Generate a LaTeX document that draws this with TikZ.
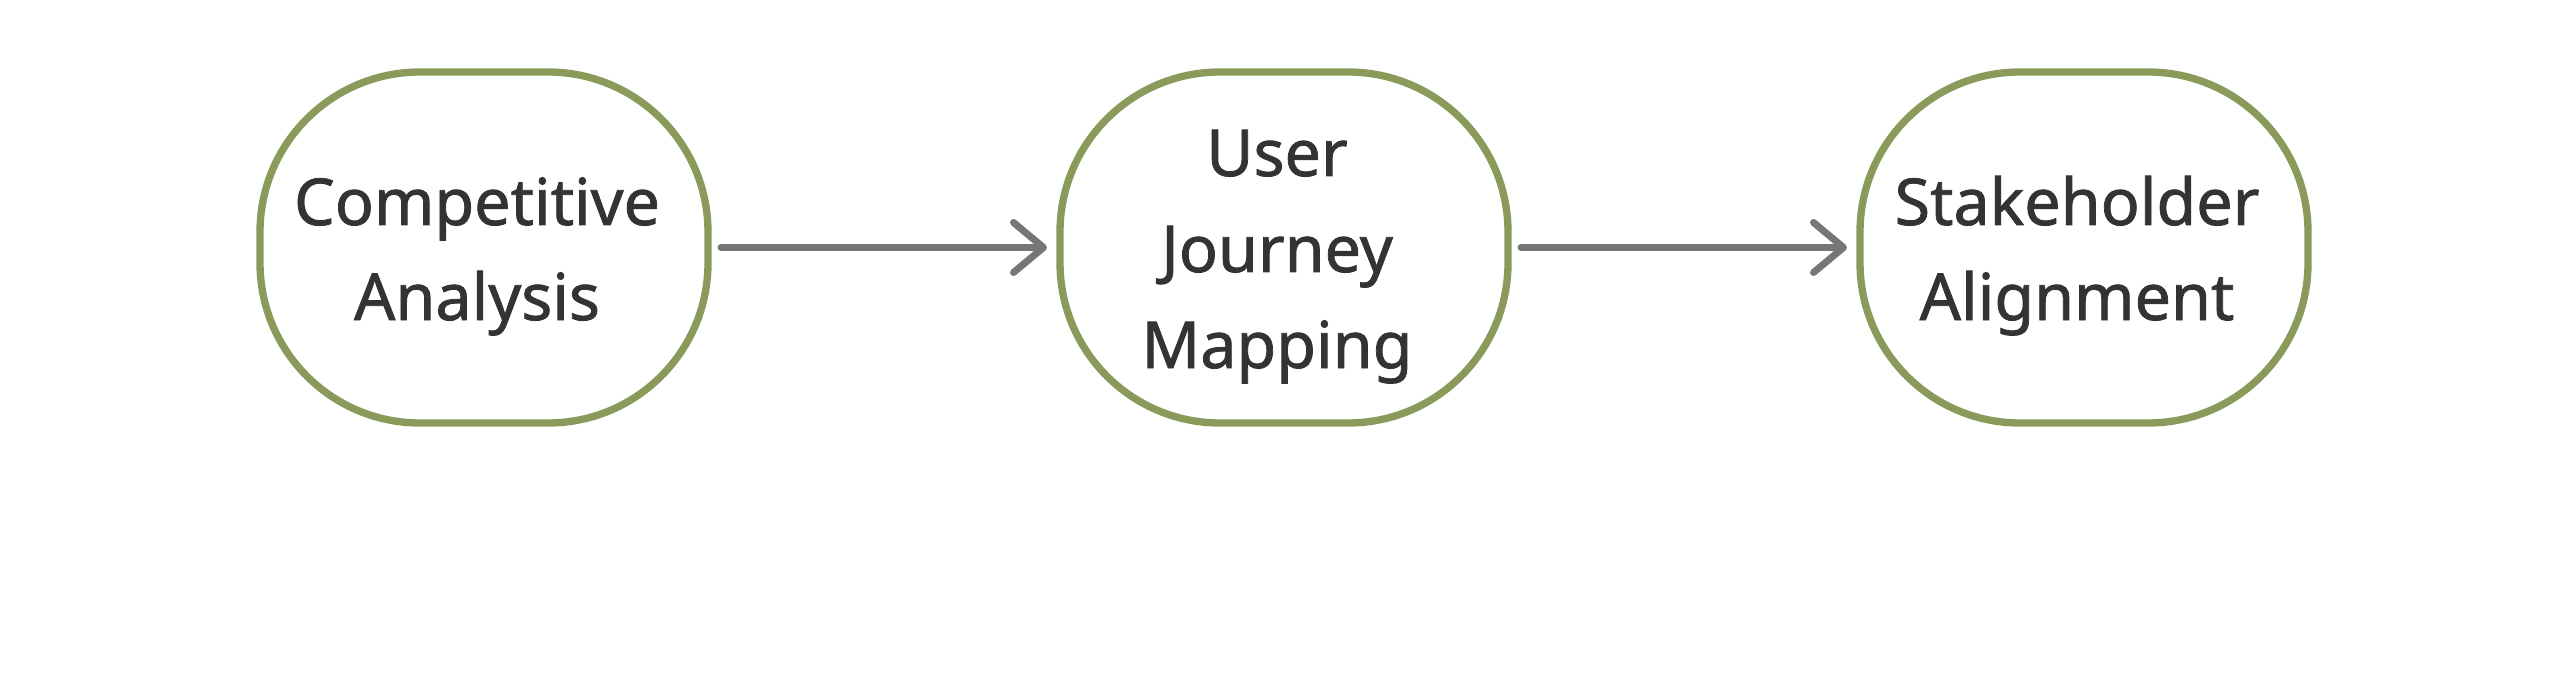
\documentclass[tikz,border=0pt]{standalone}
\usepackage{fontspec}
\setmainfont{Noto Sans}
\newfontfamily\lblfont{Noto Sans}[FakeBold=1.2]
\usetikzlibrary{arrows.meta}
\definecolor{boxgreen}{HTML}{8A9A5B}
\definecolor{conngray}{HTML}{767676}
\definecolor{txtgray}{HTML}{333333}
\begin{document}
\begin{tikzpicture}[x=0.75pt,y=-0.75pt,
  stage/.style={draw=boxgreen, line width=5.5pt, fill=white, rectangle, rounded corners=120pt,
    minimum width=336pt, minimum height=263.25pt, inner sep=0pt},
  lbl/.style={anchor=base, inner sep=0pt, text=txtgray, font=\lblfont\fontsize{48.5pt}{60pt}\selectfont},
  conn/.style={draw=conngray, line width=5.25pt, line cap=round,
    -{Straight Barb[length=22.5pt, width=37.5pt, line cap=round, line join=round]},
    shorten <=7pt, shorten >=7pt}]
\useasboundingbox (0,0) rectangle (2568,684);
\node[stage] (n1) at (484,247.5) {};
\node[stage] (n2) at (1284,247.5) {};
\node[stage] (n3) at (2084,247.5) {};
\node[lbl] (t1a) at (477,225) {Competitive};
\node[lbl] (t1b) at (477,320) {Analysis};
\node[lbl] (t2a) at (1277,176) {User};
\node[lbl] (t2b) at (1277,272) {Journey};
\node[lbl] (t2c) at (1277,368) {Mapping};
\node[lbl] (t3a) at (2077,225) {Stakeholder};
\node[lbl] (t3b) at (2077,320) {Alignment};
\draw[conn] (n1) -- (n2);
\draw[conn] (n2) -- (n3);
\end{tikzpicture}
\end{document}
